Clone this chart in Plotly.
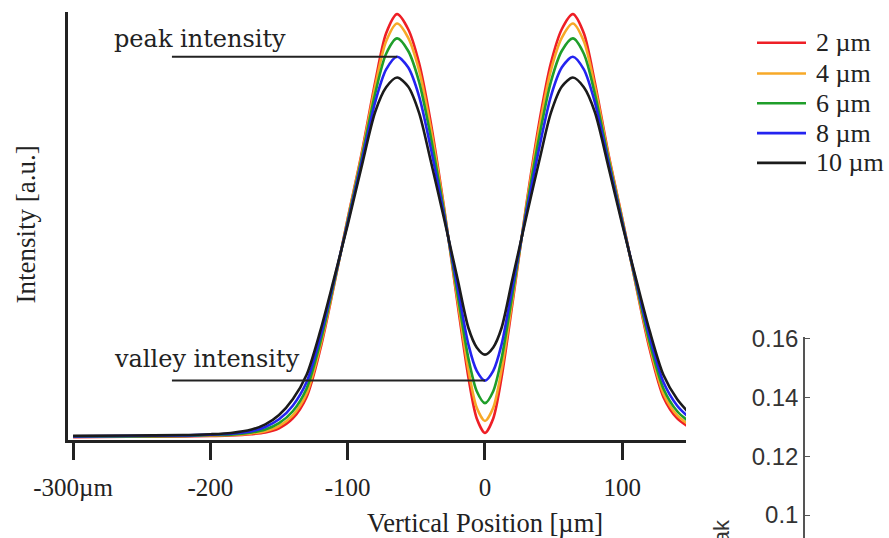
import plotly.graph_objects as go

# Vertical position across the two-beam intensity profile (µm)
position_um = [-300, -260, -220, -200, -185, -170, -160, -150, -140, -130, -120, -110,
               -100, -90, -80, -72, -64, -56, -48, -40, -30, -20, -12, -6, 0,
               6, 12, 20, 30, 40, 48, 56, 64, 72, 80, 90, 100, 110, 120, 130, 140, 150]

# Normalised intensity for each beam size
intensity_2um = [0.006, 0.007, 0.008, 0.009, 0.010, 0.013, 0.017, 0.027, 0.050, 0.100, 0.212, 0.362,
                 0.520, 0.670, 0.840, 0.955, 1.000, 0.965, 0.885, 0.755, 0.550, 0.320, 0.145, 0.050, 0.016,
                 0.050, 0.145, 0.320, 0.550, 0.755, 0.885, 0.965, 1.000, 0.955, 0.840, 0.670, 0.520,
                 0.362, 0.212, 0.100, 0.050, 0.027]
intensity_4um = [0.007, 0.008, 0.009, 0.010, 0.011, 0.015, 0.020, 0.032, 0.057, 0.108, 0.219, 0.364,
                 0.518, 0.666, 0.830, 0.936, 0.978, 0.945, 0.868, 0.741, 0.546, 0.329, 0.163, 0.075, 0.044,
                 0.075, 0.163, 0.329, 0.546, 0.741, 0.868, 0.945, 0.978, 0.936, 0.830, 0.666, 0.518,
                 0.364, 0.219, 0.108, 0.057, 0.032]
intensity_6um = [0.007, 0.008, 0.009, 0.011, 0.012, 0.017, 0.024, 0.039, 0.067, 0.120, 0.228, 0.368,
                 0.514, 0.659, 0.813, 0.907, 0.943, 0.914, 0.841, 0.720, 0.539, 0.342, 0.190, 0.114, 0.086,
                 0.114, 0.190, 0.342, 0.539, 0.720, 0.841, 0.914, 0.943, 0.907, 0.813, 0.659, 0.514,
                 0.368, 0.228, 0.120, 0.067, 0.039]
intensity_8um = [0.008, 0.009, 0.010, 0.012, 0.014, 0.020, 0.030, 0.048, 0.080, 0.135, 0.241, 0.373,
                 0.510, 0.650, 0.793, 0.870, 0.900, 0.875, 0.807, 0.693, 0.531, 0.359, 0.223, 0.162, 0.139,
                 0.162, 0.223, 0.359, 0.531, 0.693, 0.807, 0.875, 0.900, 0.870, 0.793, 0.650, 0.510,
                 0.373, 0.241, 0.135, 0.080, 0.048]
intensity_10um = [0.009, 0.010, 0.011, 0.013, 0.016, 0.024, 0.036, 0.058, 0.095, 0.152, 0.255, 0.378,
                  0.505, 0.640, 0.770, 0.828, 0.851, 0.830, 0.768, 0.662, 0.522, 0.378, 0.262, 0.217, 0.200,
                  0.217, 0.262, 0.378, 0.522, 0.662, 0.768, 0.830, 0.851, 0.828, 0.770, 0.640, 0.505,
                  0.378, 0.255, 0.152, 0.095, 0.058]

series_names = ["2 µm", "4 µm", "6 µm", "8 µm", "10 µm"]
series_values = [intensity_2um, intensity_4um, intensity_6um, intensity_8um, intensity_10um]
series_colors = ["#ee1f26", "#f7a928", "#1f9e2a", "#2424f0", "#1b1b1b"]

x_tick_vals = [-300, -200, -100, 0, 100]
x_tick_text = ["-300µm", "-200", "-100", "0", "100"]

# Ratio axis of the neighbouring panel
ratio_tick_vals = [0.1, 0.12, 0.14, 0.16]
ratio_tick_text = ["0.1", "0.12", "0.14", "0.16"]

# Reference levels marked on the 8 µm profile
peak_level = intensity_8um[position_um.index(-64)]
valley_level = intensity_8um[position_um.index(0)]

W, H = 889, 538
ML, MR, MT, MB = 68, 0, 8, 0
serif = "Liberation Serif"
ink = "#222"


def px(xp):
    """Horizontal pixel -> paper fraction."""
    return (xp - ML) / (W - ML - MR)


def py(yp):
    """Vertical pixel (from top) -> paper fraction."""
    return (H - MB - yp) / (H - MT - MB)


fig = go.Figure()
for name, vals, col in zip(series_names, series_values, series_colors):
    fig.add_trace(go.Scatter(
        x=position_um, y=vals, name=name, mode="lines",
        line=dict(color=col, width=2.6, shape="spline", smoothing=0.8),
        hoverinfo="skip", showlegend=False,
    ))

fig.update_layout(
    width=W, height=H,
    margin=dict(l=ML, r=MR, t=MT, b=MB),
    paper_bgcolor="white", plot_bgcolor="white",
    font=dict(family=serif, size=24, color=ink),
    showlegend=False,
    xaxis=dict(
        domain=[0, px(686)], range=[-303.7, 146.4],
        showline=True, linecolor=ink, linewidth=2.5,
        ticks="outside", ticklen=18, tickwidth=2.5, tickcolor=ink,
        tickvals=x_tick_vals, ticktext=x_tick_text,
        tickfont=dict(family=serif, size=25, color=ink),
        ticklabelstandoff=6,
        showgrid=False, zeroline=False,
    ),
    yaxis=dict(
        domain=[py(439), 1], range=[0, 1.005],
        showline=True, linecolor=ink, linewidth=2.5,
        ticks="", showticklabels=False, showgrid=False, zeroline=False,
    ),
    xaxis2=dict(domain=[px(805), 1], anchor="y2", visible=False, range=[0, 1]),
    yaxis2=dict(
        domain=[0, py(335)], anchor="x2", range=[0.0922, 0.1607],
        showline=True, linecolor="#555", linewidth=1.5,
        ticks="inside", ticklen=5, tickcolor="#555",
        tickvals=ratio_tick_vals, ticktext=ratio_tick_text,
        tickfont=dict(family="Liberation Sans", size=24, color="#333"),
        showgrid=False, zeroline=False,
    ),
)

# Empty trace so the ratio panel is laid out
fig.add_trace(go.Scatter(x=[None], y=[None], xaxis="x2", yaxis="y2",
                         showlegend=False, hoverinfo="skip"))

# Axis titles
fig.add_annotation(x=0, y=py(523), xref="x", yref="paper", text="Vertical Position [µm]",
                   showarrow=False, xanchor="center", yanchor="middle",
                   font=dict(family=serif, size=26.5, color=ink))
fig.add_annotation(x=px(26), y=py(222), xref="paper", yref="paper", text="Intensity [a.u.]",
                   showarrow=False, textangle=-90, xanchor="center", yanchor="middle",
                   font=dict(family=serif, size=27, color=ink))

# Leader lines for the peak and valley levels
fig.add_shape(type="line", x0=-228, x1=-64, y0=peak_level, y1=peak_level,
              xref="x", yref="y", line=dict(color=ink, width=2))
fig.add_shape(type="line", x0=-228, x1=0, y0=valley_level, y1=valley_level,
              xref="x", yref="y", line=dict(color=ink, width=2))

fig.add_annotation(x=-271.7, y=py(35), xref="x", yref="paper", text="peak intensity",
                   showarrow=False, xanchor="left", yanchor="middle",
                   font=dict(family="DejaVu Serif", size=24, color=ink))
fig.add_annotation(x=-271.7, y=py(358), xref="x", yref="paper", text="valley intensity",
                   showarrow=False, xanchor="left", yanchor="middle",
                   font=dict(family="DejaVu Serif", size=24, color=ink))

# Legend: coloured line samples with their labels
legend_rows = [39, 70, 100, 130, 160]
for name, col, yrow in zip(series_names, series_colors, legend_rows):
    fig.add_shape(type="line", xref="paper", yref="paper",
                  x0=px(757), x1=px(806), y0=py(yrow), y1=py(yrow),
                  line=dict(color=col, width=2.6))
    fig.add_annotation(x=px(814), y=py(yrow), xref="paper", yref="paper", text=name,
                       showarrow=False, xanchor="left", yanchor="middle",
                       font=dict(family=serif, size=26, color=ink))

# Rotated label of the ratio panel
fig.add_annotation(x=px(722), y=py(517), xref="paper", yref="paper", text="peak",
                   showarrow=False, textangle=-90, xanchor="center", yanchor="top",
                   font=dict(family="Liberation Sans", size=22, color="#333"))

fig.write_html("out.html")
